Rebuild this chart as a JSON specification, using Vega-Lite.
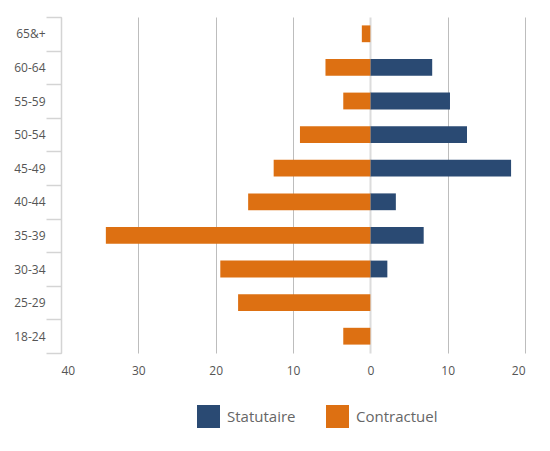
{
  "$schema": "https://vega.github.io/schema/vega-lite/v6.json",
  "autosize": {"type": "none"},
  "padding": {"left": 61, "top": 17, "right": 25, "bottom": 98},
  "width": 464,
  "height": 336,
  "background": "#ffffff",
  "config": {
    "view": {"stroke": null},
    "font": "Open Sans"
  },
  "data": {
    "values": [
      {"age": "65&+", "statut": "Contractuel", "effectif": -1.1},
      {"age": "60-64", "statut": "Statutaire", "effectif": 8.0},
      {"age": "60-64", "statut": "Contractuel", "effectif": -5.8},
      {"age": "55-59", "statut": "Statutaire", "effectif": 10.3},
      {"age": "55-59", "statut": "Contractuel", "effectif": -3.5},
      {"age": "50-54", "statut": "Statutaire", "effectif": 12.5},
      {"age": "50-54", "statut": "Contractuel", "effectif": -9.1},
      {"age": "45-49", "statut": "Statutaire", "effectif": 18.2},
      {"age": "45-49", "statut": "Contractuel", "effectif": -12.5},
      {"age": "40-44", "statut": "Statutaire", "effectif": 3.3},
      {"age": "40-44", "statut": "Contractuel", "effectif": -15.8},
      {"age": "35-39", "statut": "Statutaire", "effectif": 6.9},
      {"age": "35-39", "statut": "Contractuel", "effectif": -34.2},
      {"age": "30-34", "statut": "Statutaire", "effectif": 2.2},
      {"age": "30-34", "statut": "Contractuel", "effectif": -19.4},
      {"age": "25-29", "statut": "Contractuel", "effectif": -17.1},
      {"age": "18-24", "statut": "Contractuel", "effectif": -3.5}
    ]
  },
  "mark": {"type": "bar", "height": {"band": 0.5}},
  "encoding": {
    "y": {
      "field": "age",
      "type": "nominal",
      "sort": ["65&+", "60-64", "55-59", "50-54", "45-49", "40-44", "35-39", "30-34", "25-29", "18-24"],
      "scale": {"paddingInner": 0, "paddingOuter": 0},
      "axis": {
        "title": null,
        "tickBand": "extent",
        "tickSize": 15,
        "tickColor": "#d4d4d4",
        "tickWidth": 1.5,
        "domainColor": "#d4d4d4",
        "domainWidth": 1.5,
        "labelPadding": 1,
        "labelFontSize": 12,
        "labelColor": "#555555",
        "labelFont": "Open Sans",
        "grid": false
      }
    },
    "x": {
      "field": "effectif",
      "type": "quantitative",
      "stack": null,
      "scale": {"domain": [-40, 20], "nice": false, "zero": true},
      "axis": {
        "title": null,
        "values": [-40, -30, -20, -10, 0, 10, 20],
        "labelExpr": "abs(datum.value)",
        "domain": false,
        "ticks": false,
        "tickSize": 0,
        "labelPadding": 12,
        "labelFontSize": 12,
        "labelColor": "#555555",
        "labelFont": "Open Sans",
        "grid": true,
        "gridColor": {"condition": {"test": "datum.value === 0", "value": "#dcdcdc"}, "value": "#bdbdbd"},
        "gridWidth": {"condition": {"test": "datum.value === 0", "value": 2}, "value": 1}
      }
    },
    "color": {
      "field": "statut",
      "type": "nominal",
      "scale": {"domain": ["Statutaire", "Contractuel"], "range": ["#2a4a73", "#dd7012"]},
      "legend": {
        "title": null,
        "orient": "none",
        "direction": "horizontal",
        "legendX": 136,
        "legendY": 388,
        "padding": 0,
        "symbolType": "square",
        "symbolSize": 529,
        "symbolStrokeWidth": 0,
        "labelFontSize": 15,
        "labelColor": "#666666",
        "labelFont": "Open Sans",
        "labelOffset": 7,
        "columnPadding": 30
      }
    }
  }
}
